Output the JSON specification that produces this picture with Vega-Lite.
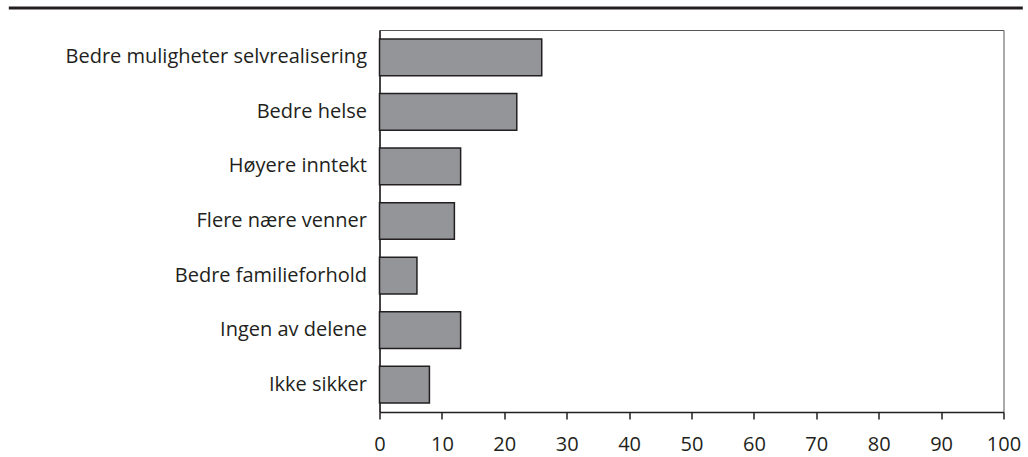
{
  "$schema": "https://vega.github.io/schema/vega-lite/v6.json",
  "background": "white",
  "padding": {"left": 6.5, "top": 6, "right": 0, "bottom": 3},
  "autosize": {"type": "pad"},
  "spacing": 19,
  "config": {
    "font": "Open Sans",
    "view": {"stroke": null}
  },
  "vconcat": [
    {
      "width": 624,
      "height": 1,
      "data": {"values": [{"start": 0, "end": 1, "level": 0}]},
      "mark": {"type": "rule", "strokeWidth": 3, "color": "#231f20", "clip": false},
      "encoding": {
        "x": {"field": "start", "type": "quantitative", "scale": {"domain": [0, 1], "range": [-370.7, 643.3]}, "axis": null},
        "x2": {"field": "end"},
        "y": {"field": "level", "type": "quantitative", "scale": {"domain": [0, 1]}, "axis": null}
      }
    },
    {
      "width": 624,
      "height": 382,
      "view": {"stroke": "#555555", "strokeWidth": 1},
      "data": {
        "values": [
          {"kategori": "Bedre muligheter selvrealisering", "prosent": 26},
          {"kategori": "Bedre helse", "prosent": 22},
          {"kategori": "Høyere inntekt", "prosent": 13},
          {"kategori": "Flere nære venner", "prosent": 12},
          {"kategori": "Bedre familieforhold", "prosent": 6},
          {"kategori": "Ingen av delene", "prosent": 13},
          {"kategori": "Ikke sikker", "prosent": 8}
        ]
      },
      "mark": {"type": "bar", "fill": "#939598", "stroke": "#231f20", "strokeWidth": 1.5},
      "encoding": {
        "y": {
          "field": "kategori",
          "type": "nominal",
          "sort": null,
          "scale": {"paddingInner": 0.327, "paddingOuter": 0.164},
          "axis": {
            "title": null,
            "ticks": false,
            "labelFontSize": 20,
            "labelColor": "#231f20",
            "labelPadding": 13,
            "labelLimit": 500,
            "domainColor": "#231f20",
            "domainWidth": 1.5,
            "minExtent": 370.7,
            "maxExtent": 400
          }
        },
        "x": {
          "field": "prosent",
          "type": "quantitative",
          "scale": {"domain": [0, 100], "nice": false},
          "axis": {
            "title": null,
            "values": [0, 10, 20, 30, 40, 50, 60, 70, 80, 90, 100],
            "grid": false,
            "tickSize": 7,
            "tickColor": "#231f20",
            "tickWidth": 1.5,
            "domainColor": "#231f20",
            "domainWidth": 1.5,
            "labelFontSize": 20,
            "labelColor": "#231f20",
            "labelPadding": 15.5,
            "labelFlush": false
          }
        }
      }
    }
  ]
}
